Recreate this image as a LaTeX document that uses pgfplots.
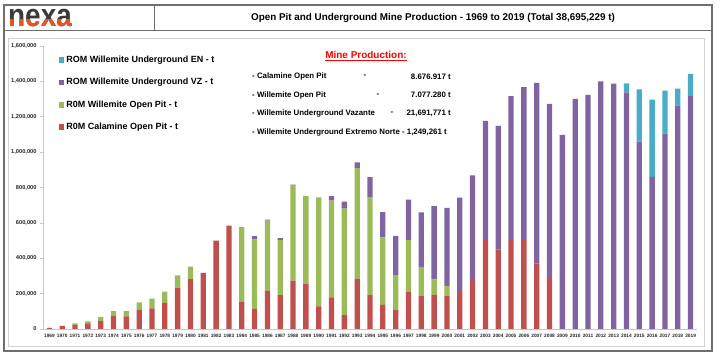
\documentclass[border=0pt]{standalone}
\usepackage{pgfplots}
\pgfplotsset{compat=1.18}
\usepackage{pgfplotstable}
\usepackage{fontspec}
\setmainfont{Liberation Sans}
\definecolor{cRed}{HTML}{C0504D}
\definecolor{cGreen}{HTML}{9BBB59}
\definecolor{cPurple}{HTML}{8064A2}
\definecolor{cTeal}{HTML}{4BACC6}
\definecolor{frameGray}{HTML}{6E6E6E}
\definecolor{logoGray}{HTML}{3A3A3A}
\definecolor{logoOrange}{HTML}{E8541E}

\pgfplotstableread{
year cal wop vz en
1969 6000 0 0 0
1970 17000 0 0 0
1971 22000 10000 0 0
1972 32000 11000 0 0
1973 45000 22000 0 0
1974 73000 28000 0 0
1975 71000 30000 0 0
1976 107000 44000 0 0
1977 116000 56000 0 0
1978 148000 63000 0 0
1979 234000 69000 0 0
1980 282000 71000 0 0
1981 318000 0 0 0
1982 499000 0 0 0
1983 585000 0 0 0
1984 153000 423000 0 0
1985 114000 393000 18000 0
1986 216000 397000 6000 0
1987 191000 312000 11000 0
1988 274000 536000 6000 0
1989 254000 497000 0 0
1990 128000 616000 0 0
1991 179000 547000 25000 0
1992 78000 603000 39000 0
1993 285000 624000 33000 0
1994 191000 552000 115000 0
1995 137000 381000 143000 0
1996 109000 193000 225000 0
1997 210000 293000 229000 0
1998 188000 163000 308000 0
1999 193000 87000 414000 0
2000 188000 56000 441000 0
2001 216000 0 527000 0
2002 283000 0 586000 0
2003 503000 0 674000 0
2004 450000 0 699000 0
2005 503000 0 813000 0
2006 503000 0 865000 0
2007 370000 0 1021000 0
2008 293000 0 980000 0
2009 0 0 1098000 0
2010 0 0 1301000 0
2011 0 0 1323000 0
2012 0 0 1400000 0
2013 0 0 1387000 0
2014 0 0 1338000 51000
2015 0 0 1059000 296000
2016 0 0 860000 437000
2017 0 0 1105000 243000
2018 0 0 1263000 96000
2019 0 0 1316000 127000
}\proddata

\begin{document}
\begin{tikzpicture}
\useasboundingbox (0,0) rectangle (721bp,358bp);
\begin{scope}[shift={(0bp,358bp)}, x=1bp, y=-1bp]
  % outer frame
  \draw[frameGray, line width=1.6bp] (4,5) rectangle (712,351);
  \draw[frameGray, line width=1bp] (4,31) -- (712,31);
  \draw[frameGray, line width=1bp] (154,5) -- (154,31);
  % inner chart box
  \draw[gray!35, line width=0.8bp] (8,38) rectangle (704,346);
  % logo
  \node[anchor=west, inner sep=0, text=logoGray, yscale=1.15, font=\bfseries\fontsize{28}{28}\selectfont] at (8,18) {nexa};
  \begin{scope}
    \clip (0,19.5) rectangle (150,30);
    \node[anchor=west, inner sep=0, text=logoOrange, yscale=1.15, font=\bfseries\fontsize{28}{28}\selectfont] at (8,18) {nexa};
  \end{scope}
  % title
  \node[font=\bfseries\fontsize{9.9}{11}\selectfont] at (433,18) {Open Pit and Underground Mine Production - 1969 to 2019 (Total 38,695,229 t)};
  % annotation
  \node[font=\bfseries\fontsize{10}{12}\selectfont, text=red] at (366,56) {\underline{Mine Production:}};
  \begin{scope}[every node/.style={inner sep=0, font=\bfseries\fontsize{7.9}{9}\selectfont}]
    \node[anchor=west] at (252,76.5) {- Calamine Open Pit};
    \node at (365,76.5) {-};
    \node[anchor=east] at (451,76.5) {8.676.917 t};
    \node[anchor=west] at (252,95) {- Willemite Open Pit};
    \node at (378,95) {-};
    \node[anchor=east] at (451,95) {7.077.280 t};
    \node[anchor=west] at (252,113.5) {- Willemite Underground Vazante};
    \node at (392,113.5) {-};
    \node[anchor=east] at (451,113.5) {21,691,771 t};
    \node[anchor=west] at (252,132) {- Willemite Underground Extremo Norte - 1,249,261 t};
  \end{scope}
\end{scope}

\begin{axis}[
  at={(43bp,29bp)}, anchor=origin,
  scale only axis, width=654bp, height=283bp,
  xmin=1968.5, xmax=2019.5,
  ymin=0, ymax=1600000,
  ybar stacked, bar width=5.3bp,
  axis x line=bottom, axis y line=left,
  axis line style={-, draw=gray!45, line width=0.6bp},
  xtick=data,
  xtick style={draw=none},
  xticklabel style={font=\bfseries\fontsize{4.8}{5}\selectfont, text=black!85, yshift=1.5bp, /pgf/number format/1000 sep={}},
  ytick={0,200000,...,1600000},
  scaled y ticks=false,
  yticklabel style={font=\bfseries\fontsize{5.7}{6}\selectfont, text=black!85, /pgf/number format/fixed, /pgf/number format/1000 sep={,}},
  ytick style={draw=gray!45, line width=0.6bp},
  tick align=outside, major tick length=3bp,
  /pgf/number format/assume math mode=true,
  reverse legend,
  legend cell align=left,
  legend style={at={(rel axis cs:0.024,0.973)}, anchor=north west, draw=none, fill=none,
    font=\bfseries\fontsize{9}{10}\selectfont, row sep=10.5bp, inner sep=0pt},
  legend image code/.code={\fill[#1] (0bp,-2.8bp) rectangle (5.5bp,2.8bp);},
  every axis plot/.append style={draw=none},
]
\addplot[fill=cRed] table[x=year, y=cal] {\proddata};
\addplot[fill=cGreen] table[x=year, y=wop] {\proddata};
\addplot[fill=cPurple] table[x=year, y=vz] {\proddata};
\addplot[fill=cTeal] table[x=year, y=en] {\proddata};
\legend{R0M Calamine Open Pit - t, R0M Willemite Open Pit - t, ROM Willemite Underground VZ - t, ROM Willemite Underground EN - t}
\end{axis}
\end{tikzpicture}
\end{document}
